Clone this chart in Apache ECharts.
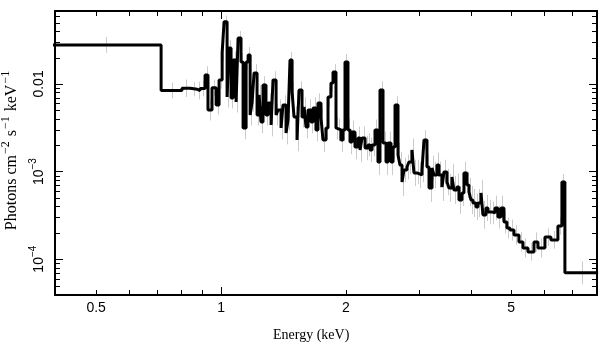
<!DOCTYPE html>
<html><head><meta charset="utf-8">
<script src="https://cdn.jsdelivr.net/npm/echarts@6/dist/echarts.min.js"></script>
<style>html,body{margin:0;padding:0;background:#fff}#c{width:609px;height:357px}</style>
</head><body><div id="c"></div>
<script>
// Energy bin edges (keV) of the model histogram
const binEdges = [
 0.39, 0.717, 0.805, 0.842, 0.876, 0.890, 0.915, 0.930, 0.951, 0.973,
 0.989, 1.006, 1.017, 1.034, 1.045, 1.057, 1.069, 1.087, 1.099, 1.117,
 1.130, 1.149, 1.162, 1.175, 1.188, 1.201, 1.221, 1.235, 1.248, 1.262,
 1.283, 1.298, 1.320, 1.334, 1.357, 1.372, 1.395, 1.410, 1.434, 1.450,
 1.466, 1.483, 1.499, 1.524, 1.541, 1.567, 1.585, 1.602, 1.620, 1.647,
 1.666, 1.693, 1.712, 1.741, 1.760, 1.790, 1.810, 1.840, 1.861, 1.892,
 1.913, 1.945, 1.967, 1.989, 2.022, 2.045, 2.068, 2.102, 2.138, 2.162,
 2.186, 2.223, 2.259, 2.285, 2.311, 2.349, 2.388, 2.415, 2.456, 2.497,
 2.525, 2.567, 2.596, 2.625, 2.669, 2.698, 2.729, 2.759, 2.805, 2.836,
 2.884, 2.916, 2.965, 2.998, 3.049, 3.083, 3.134, 3.170, 3.223, 3.258,
 3.313, 3.350, 3.406, 3.444, 3.502, 3.541, 3.600, 3.640, 3.701, 3.743,
 3.805, 3.848, 3.912, 3.956, 4.000, 4.045, 4.113, 4.159, 4.229, 4.276,
 4.347, 4.396, 4.494, 4.570, 4.646, 4.725, 4.804, 4.884, 4.966, 5.078,
 5.221, 5.339, 5.488, 5.675, 5.802, 6.031, 6.234, 6.480, 6.626, 6.737,
 8.1
];
// Photons cm^-2 s^-1 keV^-1 per bin
const flux = [
 0.0279, 0.00839, 0.00893, 0.00870, 0.00839, 0.00888, 0.01267, 0.00505, 0.00907, 0.00576,
 0.01111, 0.02259, 0.05143, 0.00710, 0.02576, 0.00692, 0.01879, 0.00623, 0.03350, 0.01783,
 0.003146, 0.01783, 0.02144, 0.004427, 0.00623, 0.01335, 0.004427, 0.00749, 0.003684, 0.00974,
 0.004427, 0.00607, 0.003404, 0.01111, 0.004427, 0.00505, 0.003146, 0.00576, 0.002759, 0.003882,
 0.01879, 0.00810, 0.004200, 0.002294, 0.00854, 0.004200, 0.00546, 0.003229, 0.00505, 0.003684,
 0.00532, 0.002985, 0.00607, 0.004091, 0.002294, 0.003146, 0.00710, 0.01027, 0.01371, 0.003146,
 0.002985, 0.002294, 0.002985, 0.01783, 0.002985, 0.002177, 0.002832, 0.001909, 0.002418, 0.001764,
 0.002418, 0.001859, 0.002012, 0.001764, 0.002012, 0.002985, 0.001287, 0.00854, 0.002121, 0.001287,
 0.002121, 0.001287, 0.001909, 0.00576, 0.001547, 0.001189, 0.000761, 0.001043, 0.001129, 0.001287,
 0.001764, 0.000964, 0.000989, 0.000915, 0.001043, 0.002294, 0.001129, 0.000650, 0.001099, 0.000915,
 0.001189, 0.000915, 0.000667, 0.000989, 0.000761, 0.000650, 0.000868, 0.000617, 0.000667, 0.000474,
 0.000570, 0.000964, 0.000703, 0.000585, 0.000474, 0.000438, 0.000394, 0.000438, 0.000570, 0.000320,
 0.000384, 0.000346, 0.000337, 0.000384, 0.000303, 0.000384, 0.000266, 0.000227, 0.000215, 0.000189,
 0.000157, 0.000134, 0.000121, 0.000157, 0.000134, 0.000179, 0.000166, 0.000239, 0.000761, 0.0000701
];
// error half-size per bin, in dex
const errDex = [
 0.09, 0.09, 0.10, 0.08, 0.10, 0.09, 0.10, 0.12, 0.09, 0.11,
 0.10, 0.09, 0.07, 0.12, 0.09, 0.12, 0.10, 0.12, 0.08, 0.10,
 0.13, 0.09, 0.09, 0.12, 0.11, 0.10, 0.12, 0.11, 0.13, 0.10,
 0.12, 0.11, 0.13, 0.10, 0.12, 0.12, 0.13, 0.11, 0.13, 0.12,
 0.09, 0.11, 0.12, 0.13, 0.10, 0.12, 0.11, 0.13, 0.12, 0.13,
 0.12, 0.13, 0.11, 0.12, 0.14, 0.13, 0.11, 0.10, 0.09, 0.13,
 0.13, 0.14, 0.13, 0.09, 0.13, 0.14, 0.13, 0.14, 0.13, 0.14,
 0.13, 0.14, 0.13, 0.14, 0.13, 0.12, 0.15, 0.10, 0.13, 0.15,
 0.13, 0.15, 0.14, 0.10, 0.14, 0.15, 0.16, 0.14, 0.14, 0.14,
 0.13, 0.15, 0.14, 0.15, 0.14, 0.11, 0.14, 0.16, 0.14, 0.15,
 0.14, 0.15, 0.16, 0.14, 0.15, 0.16, 0.15, 0.16, 0.15, 0.16,
 0.15, 0.13, 0.15, 0.16, 0.16, 0.16, 0.15, 0.16, 0.15, 0.16,
 0.15, 0.14, 0.13, 0.14, 0.13, 0.14, 0.13, 0.12, 0.12, 0.11,
 0.11, 0.11, 0.10, 0.11, 0.11, 0.10, 0.10, 0.10, 0.09, 0.13
];
const xRange = [0.398, 8.05];
const yRange = [3.9e-5, 0.068];
const xMinorTicks = [0.5, 0.6, 0.7, 0.8, 0.9, 2, 3, 4, 5, 6, 7];
const xTickLabels = [0.5, 1, 2, 5];
const yTickValues = [1e-4, 1e-3, 1e-2];
const yTickLabels = ['{n|10}{s|−4}', '{n|10}{s|−3}', '{n|0.01}'];
const yMinorTicks = [5e-5, 6e-5, 7e-5, 8e-5, 9e-5,
 2e-4, 3e-4, 4e-4, 5e-4, 6e-4, 7e-4, 8e-4, 9e-4,
 2e-3, 3e-3, 4e-3, 5e-3, 6e-3, 7e-3, 8e-3, 9e-3,
 0.02, 0.03, 0.04, 0.05, 0.06];
const xTitle = 'Energy (keV)';
const yTitle = '{t|Photons cm}{s|−2}{t|s}{s|−1}{t|keV}{s|−1}';

const SANS = '"Liberation Sans", Arial, sans-serif';
const SERIF = '"Liberation Serif", "Times New Roman", serif';

const stepData = binEdges.map((e, i) => [e, i < flux.length ? flux[i] : flux[flux.length - 1]]);
const errData = flux.map((v, i) => [Math.sqrt(binEdges[i] * binEdges[i + 1]), v / Math.pow(10, errDex[i]), v * Math.pow(10, errDex[i])]);

const crisp = v => Math.round(v) + 0.5;

const frameLine = { show: true, lineStyle: { color: '#000', width: 2 } };
const majorTick = { show: true, inside: true, length: 8, lineStyle: { color: '#000', width: 1 } };

function xAx(pos) {
  return { type: 'log', logBase: 10, min: xRange[0], max: xRange[1], position: pos,
    axisLine: frameLine, axisTick: majorTick, axisLabel: { show: false },
    splitLine: { show: false }, minorTick: { show: false } };
}
function yAx(pos, labels) {
  return { type: 'log', logBase: 10, min: yRange[0], max: yRange[1], position: pos,
    axisLine: frameLine, axisTick: majorTick, splitLine: { show: false },
    axisLabel: labels ? {
      show: true, rotate: 90, margin: 9, color: '#000', fontFamily: SANS, fontSize: 14,
      showMinLabel: false, showMaxLabel: false,
      formatter: v => {
        const i = yTickValues.findIndex(t => Math.abs(Math.log10(t) - Math.log10(v)) < 1e-3);
        return i >= 0 ? yTickLabels[i] : '';
      },
      rich: {
        n: { fontSize: 14, fontFamily: SANS, color: '#000', lineHeight: 18, verticalAlign: 'bottom' },
        s: { fontSize: 10, fontFamily: SANS, color: '#000', lineHeight: 9, verticalAlign: 'top' }
      }
    } : { show: false },
    name: labels ? yTitle : '', nameLocation: 'middle', nameRotate: 90, nameGap: 23,
    nameTextStyle: {
      padding: [0, 0, 0, 10],
      rich: {
        t: { fontSize: 16, fontFamily: SERIF, color: '#000', lineHeight: 20, verticalAlign: 'bottom' },
        s: { fontSize: 12, fontFamily: SERIF, color: '#000', lineHeight: 11, verticalAlign: 'top', padding: [0, 5, 0, 1] }
      }
    }
  };
}

const chart = echarts.init(document.getElementById('c'), null, { renderer: 'canvas' });
chart.setOption({
  animation: false,
  backgroundColor: '#fff',
  grid: { left: 55, top: 11, right: 12, bottom: 62, containLabel: false, outerBoundsMode: 'none' },
  xAxis: [xAx('bottom'), xAx('top')],
  yAxis: [yAx('left', true), yAx('right', false)],
  graphic: [{
    type: 'text', left: 273, top: 328,
    style: { text: xTitle, font: '14px ' + SERIF, fill: '#000' }
  }],
  series: [
    {
      type: 'custom', name: 'data', xAxisIndex: 0, yAxisIndex: 0, z: 1,
      data: errData, encode: { x: 0, y: [1, 2] },
      renderItem: (params, api) => {
        const x = api.value(0);
        const p1 = api.coord([x, api.value(1)]);
        const p2 = api.coord([x, api.value(2)]);
        return { type: 'line', shape: { x1: crisp(p1[0]), y1: p1[1], x2: crisp(p1[0]), y2: p2[1] },
          style: { stroke: '#cbcbcb', lineWidth: 1 } };
      }
    },
    {
      type: 'line', name: 'model', xAxisIndex: 0, yAxisIndex: 0, z: 3,
      data: stepData, step: 'end', showSymbol: false, symbol: 'none',
      lineStyle: { color: '#000', width: 3 }, clip: true
    },
    {
      type: 'custom', name: 'xminor', z: 4, silent: true,
      data: xMinorTicks.map(v => [v, yRange[0]]), encode: { x: 0, y: 1 },
      renderItem: (params, api) => {
        const cs = params.coordSys;
        const px = crisp(api.coord([api.value(0), yRange[0]])[0]);
        const b = cs.y + cs.height, t = cs.y;
        return { type: 'group', children: [
          { type: 'line', shape: { x1: px, y1: b, x2: px, y2: b - 5 }, style: { stroke: '#000', lineWidth: 1 } },
          { type: 'line', shape: { x1: px, y1: t, x2: px, y2: t + 5 }, style: { stroke: '#000', lineWidth: 1 } }
        ] };
      }
    },
    {
      type: 'custom', name: 'yminor', z: 4, silent: true,
      data: yMinorTicks.map(v => [xRange[0], v]), encode: { x: 0, y: 1 },
      renderItem: (params, api) => {
        const cs = params.coordSys;
        const py = crisp(api.coord([xRange[0], api.value(1)])[1]);
        const l = cs.x, r = cs.x + cs.width;
        return { type: 'group', children: [
          { type: 'line', shape: { x1: l, y1: py, x2: l + 5, y2: py }, style: { stroke: '#000', lineWidth: 1 } },
          { type: 'line', shape: { x1: r, y1: py, x2: r - 5, y2: py }, style: { stroke: '#000', lineWidth: 1 } }
        ] };
      }
    },
    {
      type: 'custom', name: 'xlabels', z: 4, silent: true, clip: false,
      data: xTickLabels.map(v => [v, yRange[0]]), encode: { x: 0, y: 1 },
      renderItem: (params, api) => {
        const cs = params.coordSys;
        const px = api.coord([api.value(0), yRange[0]])[0];
        return { type: 'text', x: px, y: cs.y + cs.height + 13,
          style: { text: String(api.value(0)), fill: '#000', font: '14px ' + SANS,
            align: 'center', verticalAlign: 'middle', textAlign: 'center', textVerticalAlign: 'middle' } };
      }
    }
  ]
});
</script></body></html>
